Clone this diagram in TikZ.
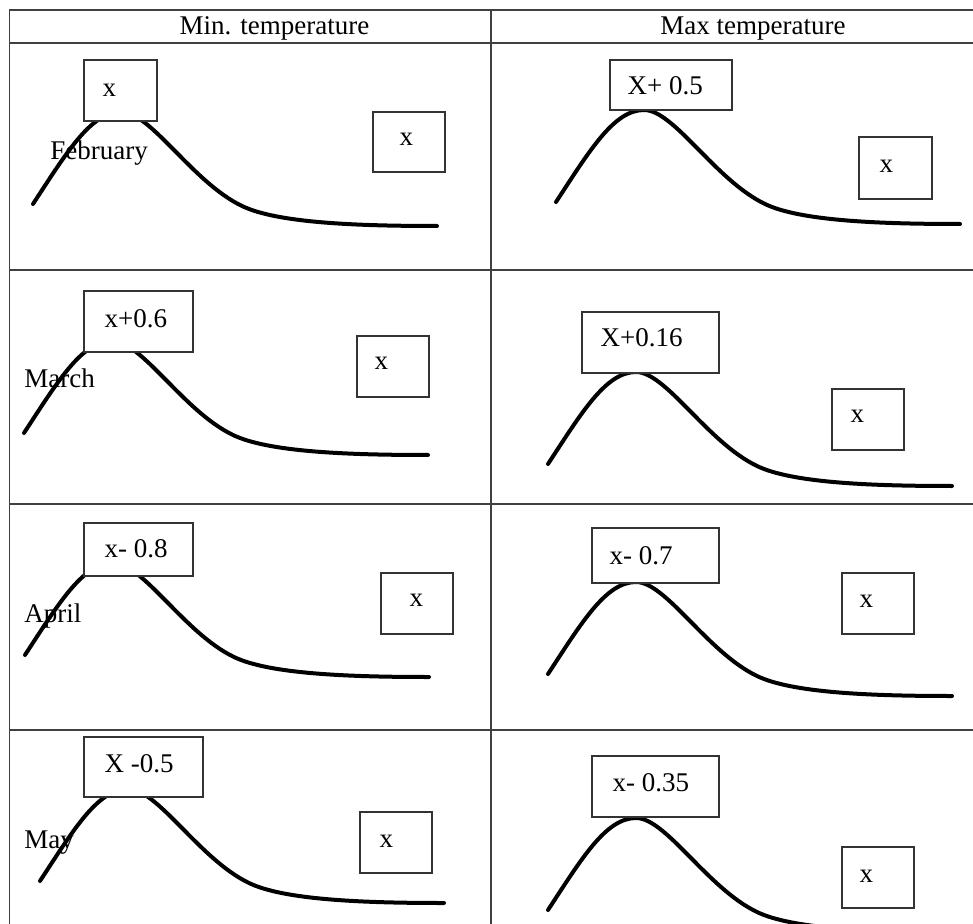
\documentclass[tikz,border=0pt]{standalone}
\usepackage{fontspec}
\setmainfont{Liberation Serif}
\usetikzlibrary{fit}

\begin{document}
\begin{tikzpicture}[x=0.5pt, y=-0.5pt,
    grid/.style={draw=black!75, line width=0.8pt},
    curve/.style={line width=2pt, line cap=round},
    valbox/.style={draw=black!80, line width=0.7pt, fill=white, inner sep=0pt},
    val/.style={inner sep=0pt, font=\fontsize{13.5}{16}\selectfont},
    month/.style={inner sep=0pt, anchor=base west, font=\fontsize{13.5}{16}\selectfont}]

    \useasboundingbox (0,0) rectangle (973,924);
    \clip (0,0) rectangle (973,924);
    \fill[white] (0,0) rectangle (973,924);

    % table
    \draw[grid] (1000,10) -- (9.5,10) -- (9.5,1000);
    \foreach \y in {43,270,504,730}
        \draw[grid] (9.5,\y) -- (1000,\y);
    \draw[grid] (491,10) -- (491,1000);

    \node[val, anchor=base] (minhead) at (274.5,35) {Min. temperature};
    \node[val, anchor=base] (maxhead) at (753,35) {Max temperature};

    % curves
    \foreach \sx/\sy in {33/204, 556/202, 24/433, 548/464, 25/655, 548/674, 40/881, 548/910}
        \draw[curve, shift={(\sx,\sy)}] (0,0) .. controls (34,-52) and (58,-92) .. (88,-92)
            .. controls (118,-92) and (159,-22) .. (209,2) .. controls (244,19) and (324,22) .. (404,22);

    % boxes
    \foreach \nm/\xa/\ya/\xb/\yb/\dx/\dy/\txt in {
        minfeb-peak/84/60/157/121/19/37/x,
        minfeb-tail/373/112/445/172/27/34/x,
        maxfeb-peak/610/60/732/110/18/35/X+ 0.5,
        maxfeb-tail/859/137/932/199/21/36/x,
        minmar-peak/84/291/193/352/21/37/x+0.6,
        minmar-tail/357/336/429/397/18/34/x,
        maxmar-peak/582/312/719/373/19/35/X+0.16,
        maxmar-tail/832/389/904/450/19/34/x,
        minapr-peak/84/523/193/576/21/35/x- 0.8,
        minapr-tail/381/573/453/634/29/34/x,
        maxapr-peak/592/528/719/583/18/37/x- 0.7,
        maxapr-tail/842/573/914/634/18/35/x,
        minmay-peak/84/737/203/797/21/36/X -0.5,
        minmay-tail/360/812/432/873/20/36/x,
        maxmay-peak/592/756/719/817/21/36/x- 0.35,
        maxmay-tail/842/847/914/908/18/36/x}
    {
        \node[valbox, fit={(\xa,\ya) (\xb,\yb)}] (\nm) {};
        \node[val, anchor=base west] (\nm-val) at ([shift={(\dx,\dy)}]\nm.north west) {\txt};
    }

    \node[month] (feb) at (50,160) {February};
    \node[month] (mar) at (24,388) {March};
    \node[month] (apr) at (24,622) {April};
    \node[month] (may) at (24,848) {May};
\end{tikzpicture}
\end{document}
